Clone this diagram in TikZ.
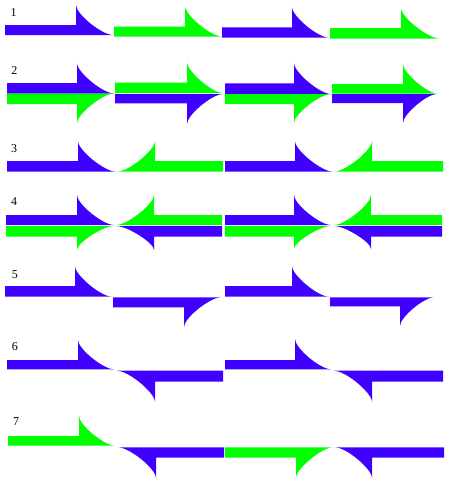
\documentclass[tikz,border=0pt]{standalone}
\usepackage{fontspec}
\setmainfont{Liberation Serif}
\definecolor{hb}{RGB}{64,0,255}
\definecolor{hg}{RGB}{0,255,0}
\def\ka{0.3}
% half arrow, head above the bar: colour, bar end, xb (head base), xt (tip), yt, yb, ytop
\newcommand\aUp[7]{\fill[#1] (#2,-#5) -- (#3,-#5) -- (#3,-#7)
  .. controls (#3,{-(#7+\ka*(#6-#7))}) and ({#4+\ka*(#3-#4)},-#6) .. (#4,-#6)
  -- (#2,-#6) -- cycle;}
% half arrow, head below the bar: colour, bar end, xb, xt, yt, yb, ybot
\newcommand\aDn[7]{\fill[#1] (#2,-#5) -- (#4,-#5)
  .. controls ({#4+\ka*(#3-#4)},-#5) and (#3,{-(#7+\ka*(#5-#7))}) .. (#3,-#7)
  -- (#3,-#6) -- (#2,-#6) -- cycle;}
\begin{document}
\begin{tikzpicture}[x=1pt,y=1pt,
  lbl/.style={inner sep=0pt,font=\fontsize{12}{12}\selectfont}]
\useasboundingbox (0,0) rectangle (450,-482);
% labels
\node[lbl] (n1) at (13.5,-13) {1};
\node[lbl] (n2) at (14.5,-70.5) {2};
\node[lbl] (n3) at (14,-149) {3};
\node[lbl] (n4) at (14,-201.5) {4};
\node[lbl] (n5) at (15,-275) {5};
\node[lbl] (n6) at (15,-347) {6};
\node[lbl] (n7) at (16,-421.5) {7};
% row 1
\aUp{hb}{5}{76}{113}{25}{35}{5}
\aUp{hg}{114}{185}{222}{26.5}{36.5}{6}
\aUp{hb}{222}{292}{329}{27.3}{37.7}{7}
\aUp{hg}{330}{401}{440}{28}{38.7}{8}
% row 2
\aUp{hb}{7}{77}{114}{83}{93.5}{63}
\aDn{hg}{7}{77}{114}{93.5}{104}{123}
\aUp{hg}{115}{187}{223}{82.7}{93}{62}
\aDn{hb}{115}{187}{223}{94}{103.3}{124}
\aUp{hb}{225}{294}{331}{83.3}{94}{63}
\aDn{hg}{225}{294}{331}{94}{104}{123}
\aUp{hg}{332}{403}{438}{84}{93.7}{64}
\aDn{hb}{332}{403}{437}{94}{103}{123}
% row 3
\aUp{hb}{7}{78}{116}{161}{171.7}{141}
\aUp{hg}{223}{155}{117}{161}{171.7}{141}
\aUp{hb}{225}{295}{333}{161}{171.7}{141}
\aUp{hg}{443}{372}{334}{161}{171.7}{141}
% row 4
\aUp{hb}{6}{77}{114}{215}{225}{195}
\aUp{hg}{222}{154}{116}{215}{225}{195}
\aDn{hg}{6}{77}{114}{226}{236.7}{250}
\aDn{hb}{222}{154}{116}{226}{236.7}{250}
\aUp{hb}{225}{294}{331}{215}{225}{195}
\aUp{hg}{442}{371}{334}{215}{225}{195}
\aDn{hg}{225}{294}{331}{226}{236.7}{249}
\aDn{hb}{442}{371}{334}{226}{236.7}{249}
% row 5
\aUp{hb}{5}{75}{112}{286}{296.7}{266}
\aDn{hb}{113}{184}{221}{297.3}{307.3}{327}
\aUp{hb}{225}{292}{329}{286}{296.7}{266}
\aDn{hb}{330}{400}{434}{297.3}{306.3}{326}
% row 6
\aUp{hb}{7}{78}{114}{360}{369.3}{340}
\aDn{hb}{223}{155}{117}{370.7}{381.7}{402}
\aUp{hb}{225}{295}{331}{360}{369.3}{339}
\aDn{hb}{443}{372}{334}{370.7}{381.7}{402}
% row 7
\aUp{hg}{8}{79}{115}{436}{445.7}{416}
\aDn{hb}{224}{156}{118}{447.3}{457.7}{478}
\aDn{hg}{225}{296}{333}{447.3}{457.7}{478}
\aDn{hb}{444}{372}{335}{447.3}{457.7}{478}
\end{tikzpicture}
\end{document}
